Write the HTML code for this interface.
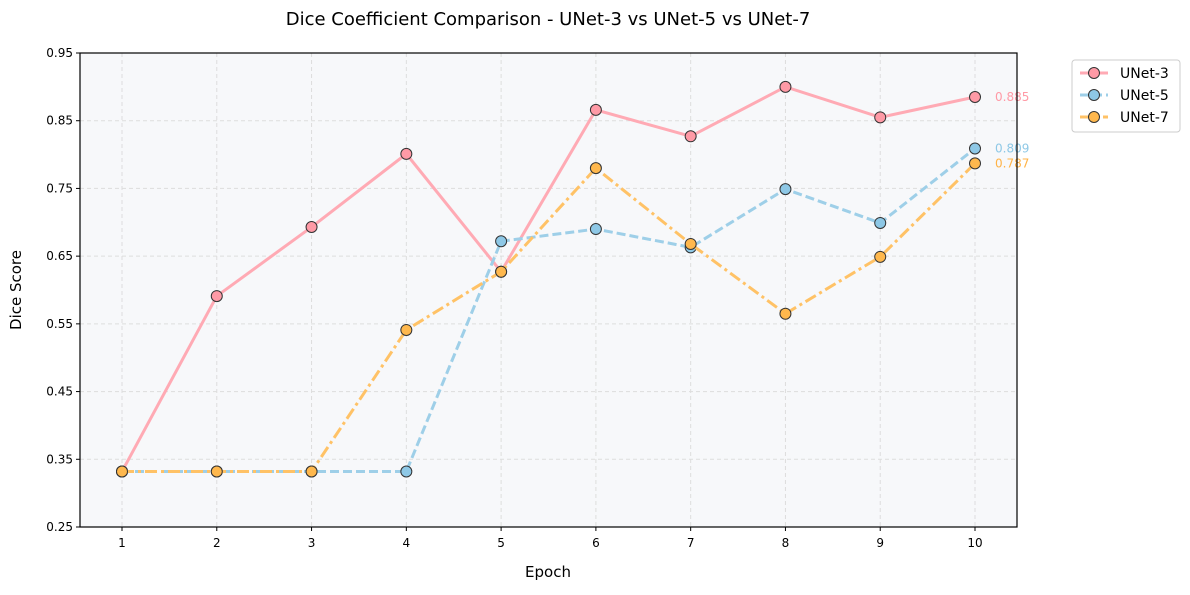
<!DOCTYPE html>
<html><head><meta charset="utf-8"><style>
body{margin:0;background:#fff;font-family:"Liberation Sans","DejaVu Sans",sans-serif;}
svg text{font-family:"DejaVu Sans","Liberation Sans",sans-serif;}
</style></head><body>
<svg id="chart" width="1190" height="590">
<rect x="0" y="0" width="1190" height="590" fill="#fff"/>
<text x="548" y="25" text-anchor="middle" font-size="18" fill="#000">Dice Coefficient Comparison - UNet-3 vs UNet-5 vs UNet-7</text>
<rect x="80" y="53" width="937" height="474" fill="#f7f8fa"/>
<g id="grid"></g><g id="axes"></g><g id="series"></g>
<rect x="80" y="53" width="937" height="474" fill="none" stroke="#000" stroke-width="1.2"/>
<text x="548" y="577" text-anchor="middle" font-size="15">Epoch</text>
<text x="21" y="290" text-anchor="middle" font-size="15" transform="rotate(-90 21 290)">Dice Score</text>
<g id="legend">
<rect x="1072" y="60" width="108" height="72" rx="3" fill="#fff" stroke="#ccc"/>
</g>
</svg>
<script>
const epochs=[1,2,3,4,5,6,7,8,9,10];
const unet3=[0.332,0.591,0.693,0.801,0.627,0.866,0.827,0.900,0.855,0.885];
const unet5=[0.332,0.332,0.332,0.332,0.672,0.690,0.663,0.749,0.699,0.809];
const unet7=[0.332,0.332,0.332,0.541,0.627,0.780,0.668,0.565,0.649,0.787];
const yTicks=[0.25,0.35,0.45,0.55,0.65,0.75,0.85,0.95];
const NS="http://www.w3.org/2000/svg";
const xs=e=>122+(e-1)*(975-122)/9;
const ys=v=>527-(v-0.25)*(474/0.7);
function mk(tag,attrs,parent,text){const el=document.createElementNS(NS,tag);for(const k in attrs)el.setAttribute(k,attrs[k]);if(text!==undefined)el.textContent=text;document.getElementById(parent).appendChild(el);return el;}
yTicks.forEach(t=>{
 const g=mk('line',{x1:80,x2:1017,y1:ys(t),y2:ys(t),stroke:'#ddd','stroke-dasharray':'4,3'},'grid');
 
 
 mk('line',{x1:76,x2:80,y1:ys(t),y2:ys(t),stroke:'#000'},'axes');
 const l=mk('text',{x:73,y:ys(t)+4,'text-anchor':'end','font-size':12},'axes',t.toFixed(2));
 
 
});
epochs.forEach(e=>{
 const g=mk('line',{x1:xs(e),x2:xs(e),y1:53,y2:527,stroke:'#ddd','stroke-dasharray':'4,3'},'grid');
 
 
 mk('line',{x1:xs(e),x2:xs(e),y1:527,y2:531,stroke:'#000'},'axes');
 const l=mk('text',{x:xs(e),y:547,'text-anchor':'middle','font-size':12},'axes',String(e));
 
 
});
const series=[
 {name:'UNet-3',vals:unet3,line:'#ffaab4',dash:'',mark:'#ff9aa6',lab:'#ff9aa6'},
 {name:'UNet-5',vals:unet5,line:'#9ecfe8',dash:'9,4',mark:'#8ec8e6',lab:'#8ec8e6'},
 {name:'UNet-7',vals:unet7,line:'#ffc266',dash:'12,4,3,4',mark:'#ffb84d',lab:'#ffb347'}
];
series.forEach((s,i)=>{
 const p=mk('polyline',{points:s.vals.map((v,j)=>xs(epochs[j])+','+ys(v)).join(' '),fill:'none',stroke:s.line,'stroke-width':3,'stroke-dasharray':s.dash},'series');
 
 
 s.vals.forEach((v,j)=>{
  const c=mk('circle',{cx:xs(epochs[j]),cy:ys(v),r:5.5,fill:s.mark,stroke:'#333','stroke-width':1},'series');
  
  
 });
 const last=s.vals[s.vals.length-1];
 const t=mk('text',{x:995,y:ys(last)+4,'font-size':12,fill:s.lab},'series',last.toFixed(3));
 
 
 const ly=73+i*22;
 const ll=mk('line',{x1:1080,x2:1108,y1:ly,y2:ly,stroke:s.line,'stroke-width':3,'stroke-dasharray':s.dash},'legend');
 
 
 mk('circle',{cx:1094,cy:ly,r:5.5,fill:s.mark,stroke:'#333'},'legend');
 const lt=mk('text',{x:1120,y:ly+5,'font-size':14},'legend',s.name);
 
 
});
</script>
</body></html>
